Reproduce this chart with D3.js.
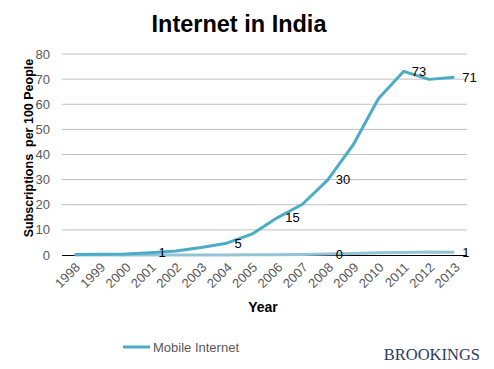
<!DOCTYPE html>
<html><head><meta charset="utf-8">
<script src="https://cdn.jsdelivr.net/npm/d3@7"></script>
<style>body{margin:0;background:#fff}svg{display:block}text{font-family:"Liberation Sans",Arial,sans-serif}text.serif{font-family:"Liberation Serif","Times New Roman",serif}</style>
</head><body><svg id="c" width="494" height="369"></svg>
<script>
const years = ["1998","1999","2000","2001","2002","2003","2004","2005","2006","2007","2008","2009","2010","2011","2012","2013"];
const mobile = [0.2,0.3,0.4,0.9,1.6,3.0,4.7,8.3,14.8,20.2,29.9,43.8,62.2,73.1,69.9,70.7];
const fixed = [0,0,0,0,0,0,0,0.1,0.1,0.2,0.4,0.6,0.9,1.0,1.2,1.1];
const mobileLabelYears = ["2001","2004","2006","2008","2011","2013"];
const fixedLabelYears = ["2008","2013"];
const yTicks = [0,10,20,30,40,50,60,70,80];

const svg = d3.select("#c");
const L = 62, R = 467, T = 54, B = 255;
const x = d3.scalePoint().domain(years).range([L, R]).padding(0.5);
const y = d3.scaleLinear().domain([0, 80]).range([B, T]);

// grid
svg.append("g").selectAll("line").data(yTicks.filter(d=>d>0)).join("line")
  .attr("x1", L).attr("x2", R).attr("y1", d=>y(d)).attr("y2", d=>y(d))
  .attr("stroke", "#c0c0c0").attr("stroke-width", 1);

// y tick labels
svg.append("g").selectAll("text").data(yTicks).join("text")
  .attr("x", 50).attr("y", d=>y(d)).attr("dy", "0.35em").attr("text-anchor", "end")
  .attr("font-size", 13).attr("fill", "#595959").text(d=>d);

// x axis line
svg.append("line").attr("x1", L).attr("x2", R).attr("y1", B + 0.5).attr("y2", B + 0.5)
  .attr("stroke", "#000").attr("stroke-width", 1);

// x tick labels
svg.append("g").selectAll("text").data(years).join("text")
  .attr("text-anchor", "end").attr("font-size", 13).attr("fill", "#595959")
  .attr("transform", d=>`translate(${x(d)+3},${B+10}) rotate(-45)`)
  .attr("dy", "0.35em").text(d=>d);

const line = d3.line().x((d,i)=>x(years[i])).y(d=>y(d));
svg.append("path").datum(fixed).attr("d", line).attr("fill", "none")
  .attr("stroke", "#93c3d6").attr("stroke-width", 3).attr("stroke-linejoin", "round");
svg.append("path").datum(mobile).attr("d", line).attr("fill", "none")
  .attr("stroke", "#4bacc6").attr("stroke-width", 3).attr("stroke-linejoin", "round");

// data labels
function labels(vals, ys) {
  svg.append("g").selectAll("text").data(ys).join("text")
    .attr("x", d=>x(d)+8).attr("y", d=>y(vals[years.indexOf(d)]))
    .attr("dy", "0.35em").attr("font-size", 13).attr("fill", "#000")
    .text(d=>Math.round(vals[years.indexOf(d)]));
}
labels(mobile, mobileLabelYears);
labels(fixed, fixedLabelYears);

// title
svg.append("text").attr("x", 239).attr("y", 32).attr("text-anchor", "middle")
  .attr("font-size", 23.5).attr("font-weight", "bold").attr("fill", "#000").text("Internet in India");

// axis titles
svg.append("text").attr("transform", "translate(33,148) rotate(-90)").attr("text-anchor", "middle")
  .attr("font-size", 12.5).attr("font-weight", "bold").attr("fill", "#000")
  .attr("xml:space", "preserve").text("Subscriptions  per 100 People");
svg.append("text").attr("x", 263).attr("y", 312).attr("text-anchor", "middle")
  .attr("font-size", 14).attr("font-weight", "bold").attr("fill", "#000").text("Year");

// legend
svg.append("line").attr("x1", 123).attr("x2", 150).attr("y1", 347).attr("y2", 347)
  .attr("stroke", "#4bacc6").attr("stroke-width", 3);
svg.append("text").attr("x", 153).attr("y", 347).attr("dy", "0.35em")
  .attr("font-size", 13).attr("fill", "#595959").text("Mobile Internet");

// brand
svg.append("text").attr("class", "serif").attr("x", 480).attr("y", 360).attr("text-anchor", "end")
  .attr("font-size", 16.5).attr("fill", "#2c3b5e").text("BROOKINGS");
</script></body></html>
